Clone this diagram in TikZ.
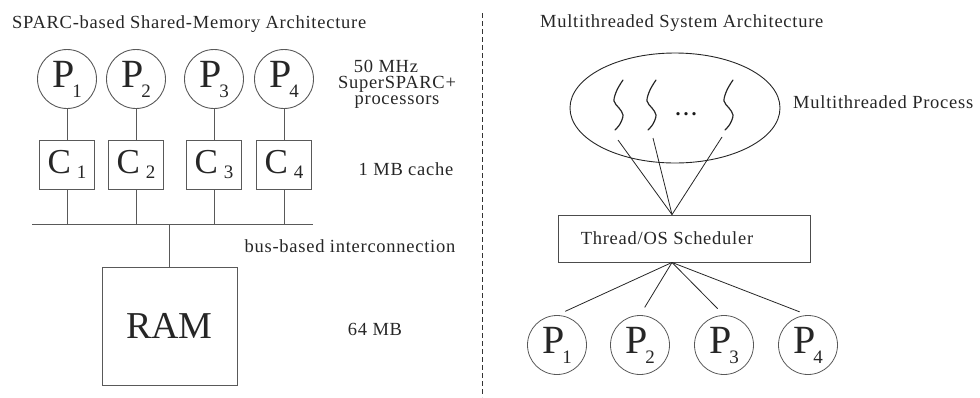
\documentclass[tikz,border=0pt]{standalone}
\usepackage{fontspec}
\setmainfont{Liberation Serif}
\newfontfamily\lblfont{Liberation Serif}[LetterSpace=4]
\usetikzlibrary{shapes.geometric}

% processor and cache labels with subscripts
\newcommand\psub[1]{P\kern-2pt\raisebox{-10pt}{\fontsize{19}{19}\selectfont #1}}
\newcommand\csub[1]{C\kern6pt\raisebox{-5pt}{\fontsize{19}{19}\selectfont #1}}

\tikzset{
  lbl/.style={font=\lblfont\fontsize{18.5}{18.5}\selectfont, text=black!85, inner sep=0},
  cpu/.style={circle, draw=black!65, line width=0.9pt, minimum size=59pt, inner sep=0,
              font=\fontsize{40}{40}\selectfont, text=black!85},
  cachebox/.style={rectangle, draw=black!65, line width=0.9pt, minimum width=55pt,
              minimum height=49pt, inner sep=0, font=\fontsize{35}{35}\selectfont, text=black!85},
  wire/.style={draw=black!65, line width=0.9pt},
  link/.style={draw=black!85, line width=0.8pt},
  thread/.style={draw=black!85, line width=1.2pt, line cap=round},
}

\begin{document}
\begin{tikzpicture}[x=1pt, y=-1pt]
\useasboundingbox (0,0) rectangle (980,397);

% ---------- shared-memory architecture ----------
\node[lbl, anchor=base west] (titleL) at (12,28) {SPARC-based Shared-Memory Architecture};

\node[cpu] (p1) at (67,79)  {\psub1};
\node[cpu] (p2) at (136,79) {\psub2};
\node[cpu] (p3) at (214,79) {\psub3};
\node[cpu] (p4) at (284,79) {\psub4};

\node[cachebox] (c1) at (67,164.5)  {\csub1};
\node[cachebox] (c2) at (136,164.5) {\csub2};
\node[cachebox] (c3) at (214,164.5) {\csub3};
\node[cachebox] (c4) at (284,164.5) {\csub4};

\coordinate (busL) at (32,224);
\coordinate (busR) at (313,224);

\node[rectangle, draw=black!65, line width=0.9pt, minimum width=135pt, minimum height=118pt,
      inner sep=0, font=\fontsize{38}{38}\selectfont, text=black!85] (ram) at (169.5,326) {RAM};

\foreach \i in {1,...,4} {
  \draw[wire] (p\i) -- (c\i);
  \draw[wire] (c\i.south) -- (c\i.south |- busL);
}
\draw[wire] (busL) -- (busR);
\draw[wire] (ram.north) -- (ram.north |- busL);

\node[lbl, anchor=base] (mhz)   at (386,72)  {50 MHz};
\node[lbl, anchor=base] (super) at (397,88)  {SuperSPARC+};
\node[lbl, anchor=base] (procs) at (397,104) {processors};
\node[lbl, anchor=base] (cache) at (406,175) {1 MB cache};
\node[lbl, anchor=base] (bus)   at (350,252) {bus-based interconnection};
\node[lbl, anchor=base] (mem)   at (375,335) {64 MB};

% ---------- divider ----------
\coordinate (divtop) at (482,13);
\coordinate (divbot) at (482,397);
\draw[black!80, line width=0.9pt, dash pattern=on 5pt off 3pt] (divtop) -- (divbot);

% ---------- multithreaded architecture ----------
\node[lbl, anchor=base west] (titleR) at (540,27) {Multithreaded System Architecture};

\node[ellipse, draw=black!85, line width=0.9pt, minimum width=210pt, minimum height=110pt,
      inner sep=0] (mproc) at (675,108) {};
\node[lbl, anchor=base west] (mplbl) at (793,108) {Multithreaded Process};

% threads
\foreach \dx in {0,33,110} {
  \draw[thread, shift={(\dx,0)}] plot[smooth, tension=0.6] coordinates
    {(623,80) (617,90) (614,101) (619,108) (623,115) (620,124) (615,130)};
}
\node[font=\fontsize{20}{20}\selectfont\bfseries, text=black!90, inner sep=0, anchor=base]
  (dots) at (686,115) {.\kern3pt.\kern3pt.};

\node[rectangle, draw=black!70, line width=0.9pt, minimum width=252pt, minimum height=47pt,
      inner sep=0, font=\lblfont\fontsize{18.5}{18.5}\selectfont, text=black!85]
  (sched) at (684,238.5) {Thread/OS Scheduler\kern34pt};

\coordinate (sin)  at ([xshift=-12pt]sched.north);
\coordinate (sout) at ([xshift=-12pt]sched.south);
\coordinate (th1) at (618,140);
\coordinate (th2) at (653,138);
\coordinate (th3) at (722,137);
\foreach \t in {th1,th2,th3} \draw[link] (\t) -- (sin);

\node[cpu, line width=0.8pt] (q1) at (557,345) {\psub1};
\node[cpu, line width=0.8pt] (q2) at (640,345) {\psub2};
\node[cpu, line width=0.8pt] (q3) at (724,345) {\psub3};
\node[cpu, line width=0.8pt] (q4) at (808,345) {\psub4};

\foreach \q in {q1,q2,q3,q4} \draw[link, shorten >=9pt] (sout) -- (\q.north);
\end{tikzpicture}
\end{document}
